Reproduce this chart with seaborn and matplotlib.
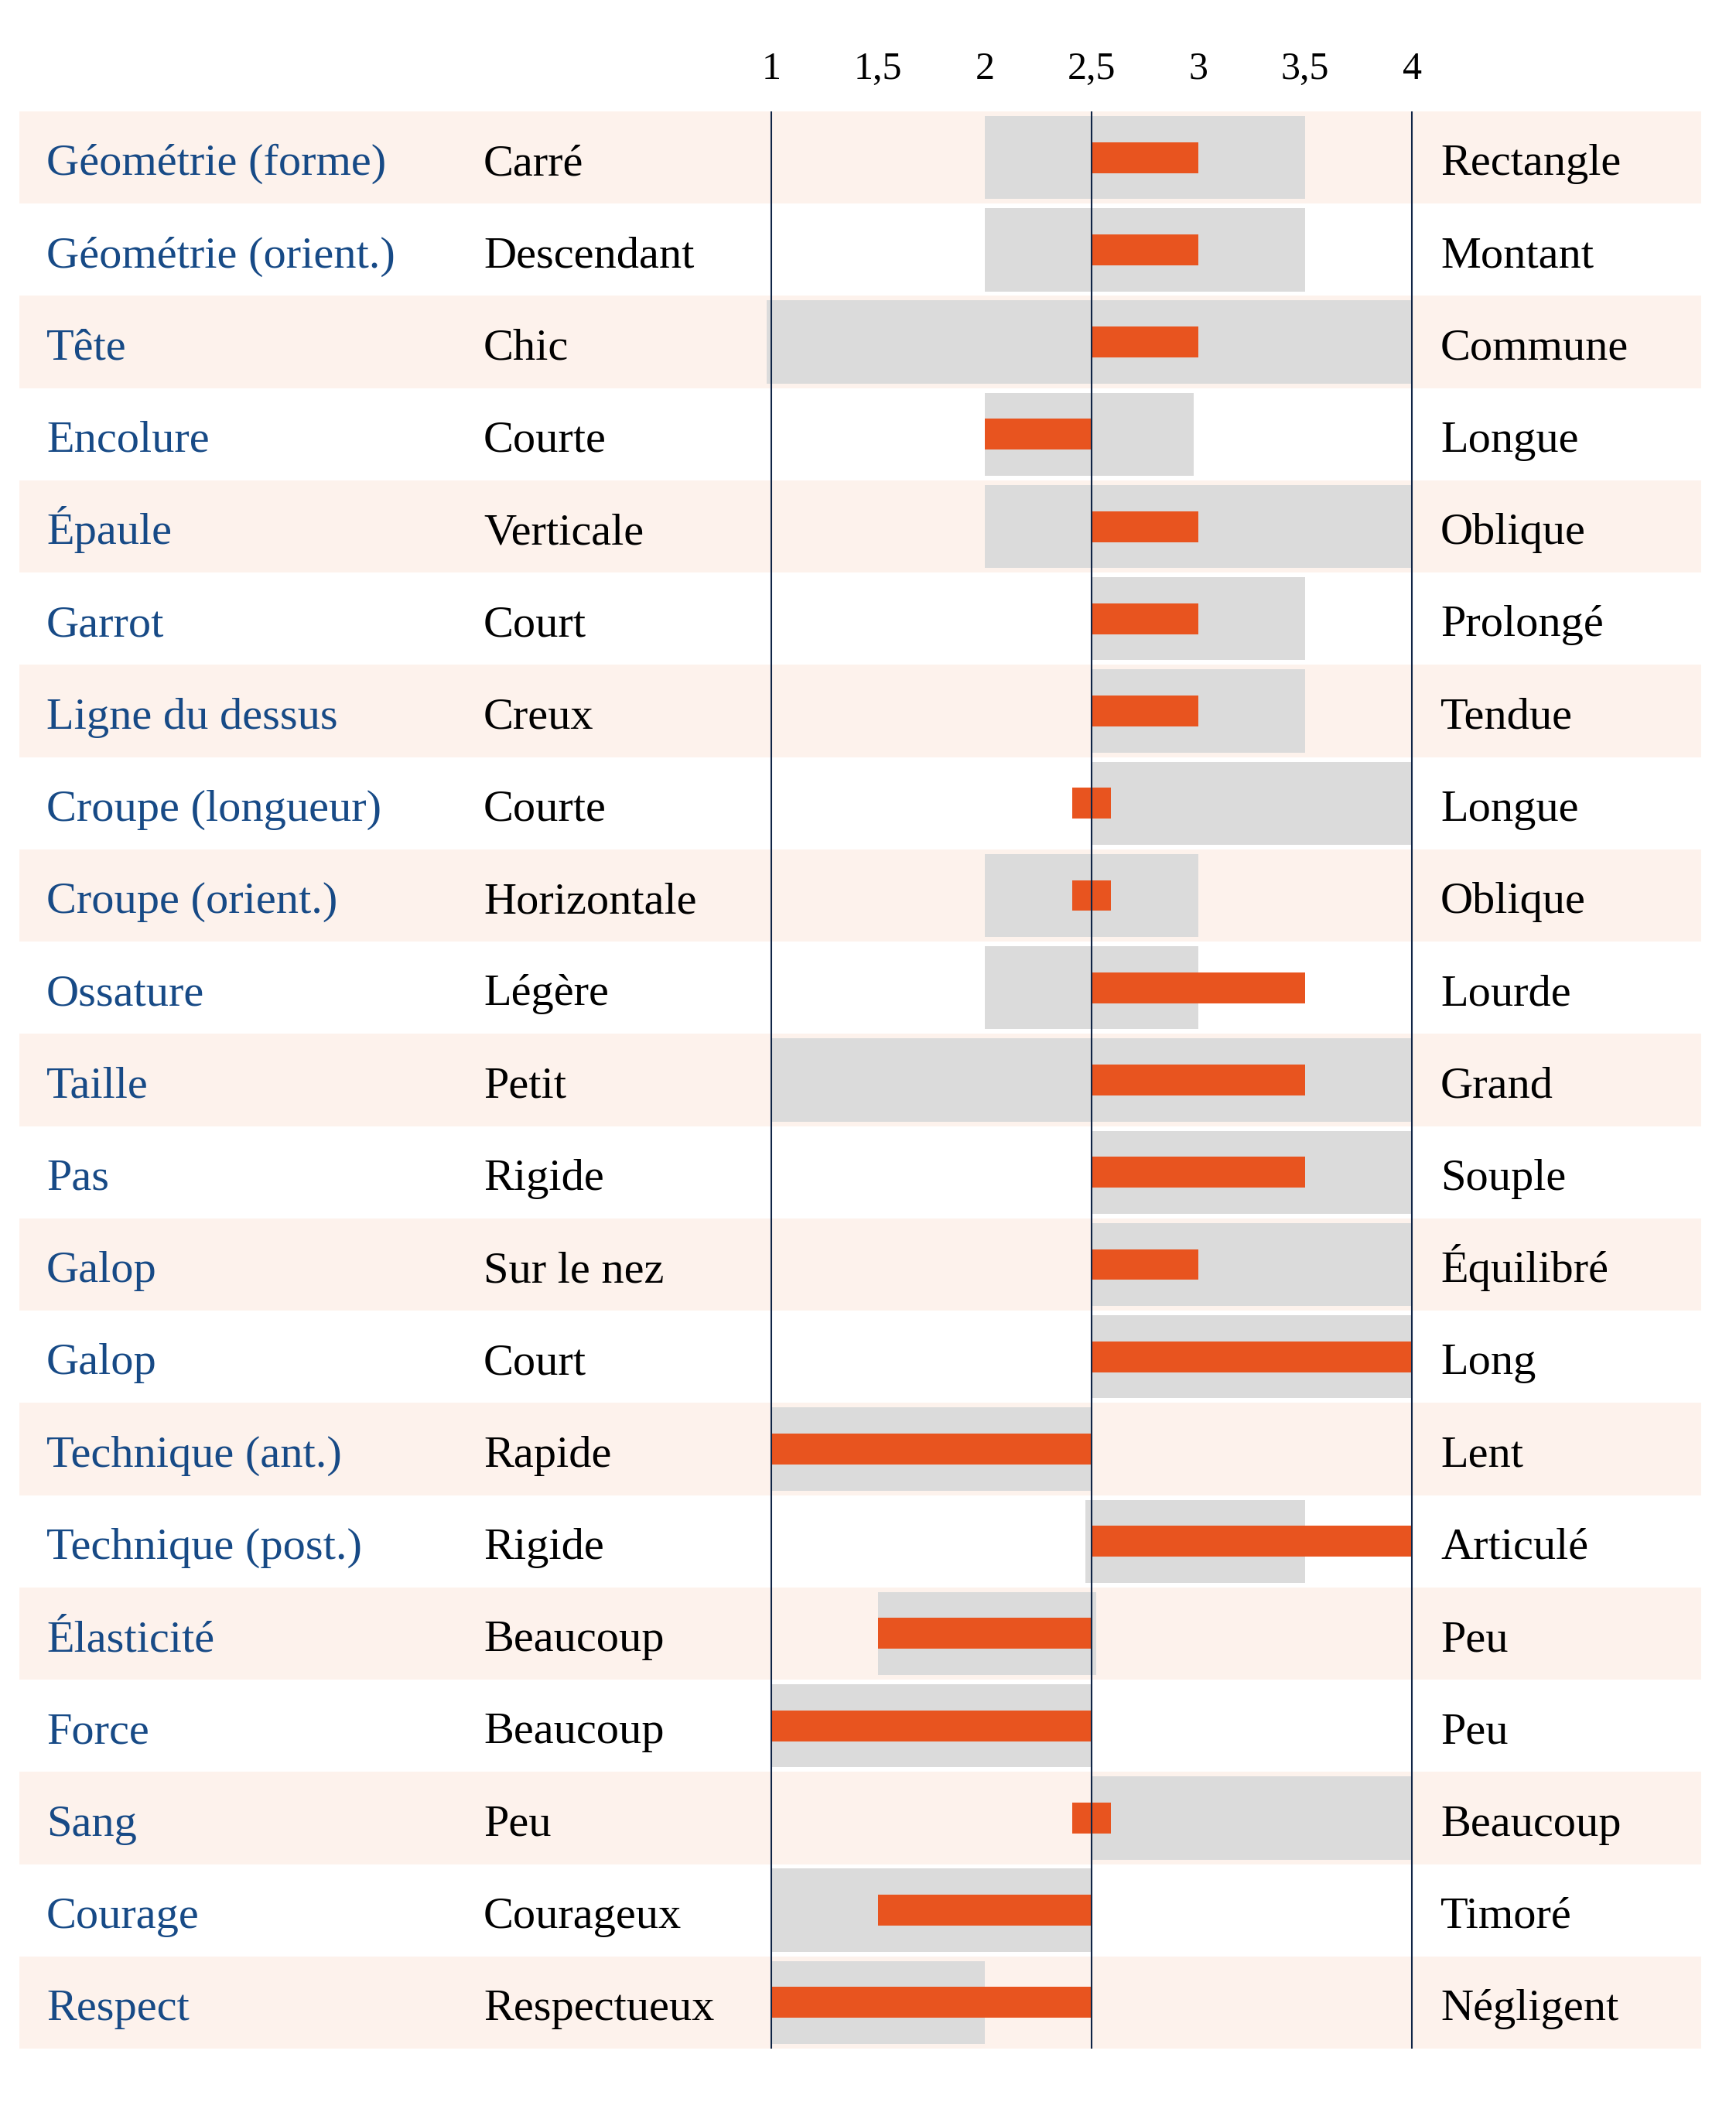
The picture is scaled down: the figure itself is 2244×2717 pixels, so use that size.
import numpy as np
import pandas as pd
import matplotlib
matplotlib.use("Agg")
import matplotlib.pyplot as plt
import seaborn as sns

# ---------------- data ----------------
criteres = ["Géométrie (forme)", "Géométrie (orient.)", "Tête", "Encolure", "Épaule",
            "Garrot", "Ligne du dessus", "Croupe (longueur)", "Croupe (orient.)", "Ossature",
            "Taille", "Pas", "Galop", "Galop", "Technique (ant.)", "Technique (post.)",
            "Élasticité", "Force", "Sang", "Courage", "Respect"]
pole_gauche = ["Carré", "Descendant", "Chic", "Courte", "Verticale", "Court", "Creux",
               "Courte", "Horizontale", "Légère", "Petit", "Rigide", "Sur le nez", "Court",
               "Rapide", "Rigide", "Beaucoup", "Beaucoup", "Peu", "Courageux", "Respectueux"]
pole_droit = ["Rectangle", "Montant", "Commune", "Longue", "Oblique", "Prolongé", "Tendue",
              "Longue", "Oblique", "Lourde", "Grand", "Souple", "Équilibré", "Long", "Lent",
              "Articulé", "Peu", "Peu", "Beaucoup", "Timoré", "Négligent"]
plage_min = [2, 2, 0.98, 2, 2, 2.5, 2.5, 2.5, 2, 2, 1, 2.5, 2.5, 2.5, 1, 2.47, 1.5, 1, 2.5, 1, 1]
plage_max = [3.5, 3.5, 4, 2.98, 4, 3.5, 3.5, 4, 3, 3, 4, 4, 4, 4, 2.5, 3.5, 2.52, 2.5, 4, 2.5, 2]
valeur = [3, 3, 3, 2, 3, 3, 3, 2.5, 2.5, 3.5, 3.5, 3.5, 3, 4, 1, 4, 1.5, 1, 2.5, 1.5, 1]
tick_values = [1, 1.5, 2, 2.5, 3, 3.5, 4]
tick_labels = ["1", "1,5", "2", "2,5", "3", "3,5", "4"]
centre = 2.5

# ---------------- style ----------------
W, H, DPI = 2244, 2717, 100
GRAY = "#dbdbdb"
ORANGE = "#e8541f"
BAND = "#fdf2ec"
NAVY_TXT = "#174a86"
LINE = "#0f2446"
MARK_HALF = 0.09
FS = 42
FS_TICK = 36

sns.set_theme(style="white")
plt.rcParams["font.family"] = ["Liberation Serif", "DejaVu Serif"]

n = len(criteres)
df = pd.DataFrame({
    "row": [f"r{i}" for i in range(n)],
    "critere": criteres,
    "gauche": pole_gauche,
    "droit": pole_droit,
    "pmin": plage_min,
    "pmax": plage_max,
    "val": valeur,
})
df["pwidth"] = df["pmax"] - df["pmin"]
dev = df["val"] - centre
df["ostart"] = np.where(dev == 0, centre - MARK_HALF, np.minimum(df["val"], centre))
df["owidth"] = np.where(dev == 0, 2 * MARK_HALF, np.abs(dev))

fig = plt.figure(figsize=(W / DPI, H / DPI), dpi=DPI)
ax = fig.add_axes([0, 0, 1, 1])

# pixel -> data helpers (layout only)
X1_PX, X4_PX = 997.0, 1825.0
PX_PER_UNIT = (X4_PX - X1_PX) / 3.0
TOP_PX, BOT_PX = 144.0, 2648.0
ROW_PX = (BOT_PX - TOP_PX) / n
ROW0_PX = TOP_PX + ROW_PX / 2
def xd(px):
    return 1 + (px - X1_PX) / PX_PER_UNIT
def yd(px):
    return (px - ROW0_PX) / ROW_PX

order = list(df["row"])
sns.barplot(data=df, x="pwidth", y="row", order=order, orient="h", color=GRAY,
            saturation=1, width=0.9, errorbar=None, linewidth=0,
            left=df["pmin"].to_numpy(), ax=ax, zorder=2)
sns.barplot(data=df, x="owidth", y="row", order=order, orient="h", color=ORANGE,
            saturation=1, width=0.335, errorbar=None, linewidth=0,
            left=df["ostart"].to_numpy(), ax=ax, zorder=3)

# alternating bands
for i in range(n):
    if i % 2 == 0:
        ax.axhspan(i - 0.5, i + 0.5, xmin=25 / W, xmax=2199 / W, color=BAND, lw=0, zorder=0)

# reference lines
for v in (tick_values[0], centre, tick_values[-1]):
    ax.vlines(v, -0.5, n - 0.5, color=LINE, lw=1.5, zorder=4)

# tick labels
for v, lab in zip(tick_values, tick_labels):
    ax.text(v, yd(102), lab, ha="center", va="baseline", fontsize=FS_TICK, color="black")

# row labels
BASE = 0.19
for i in range(n):
    ax.text(xd(60), i + BASE, df["critere"][i], ha="left", va="baseline", fontsize=FS, color=NAVY_TXT)
    ax.text(xd(625), i + BASE, df["gauche"][i], ha="left", va="baseline", fontsize=FS, color="black")
    ax.text(xd(1862), i + BASE, df["droit"][i], ha="left", va="baseline", fontsize=FS, color="black")

ax.set_xlim(xd(0), xd(W))
ax.set_ylim(yd(H), yd(0))
ax.axis("off")

fig.savefig("out.png", dpi=DPI, facecolor="white")
